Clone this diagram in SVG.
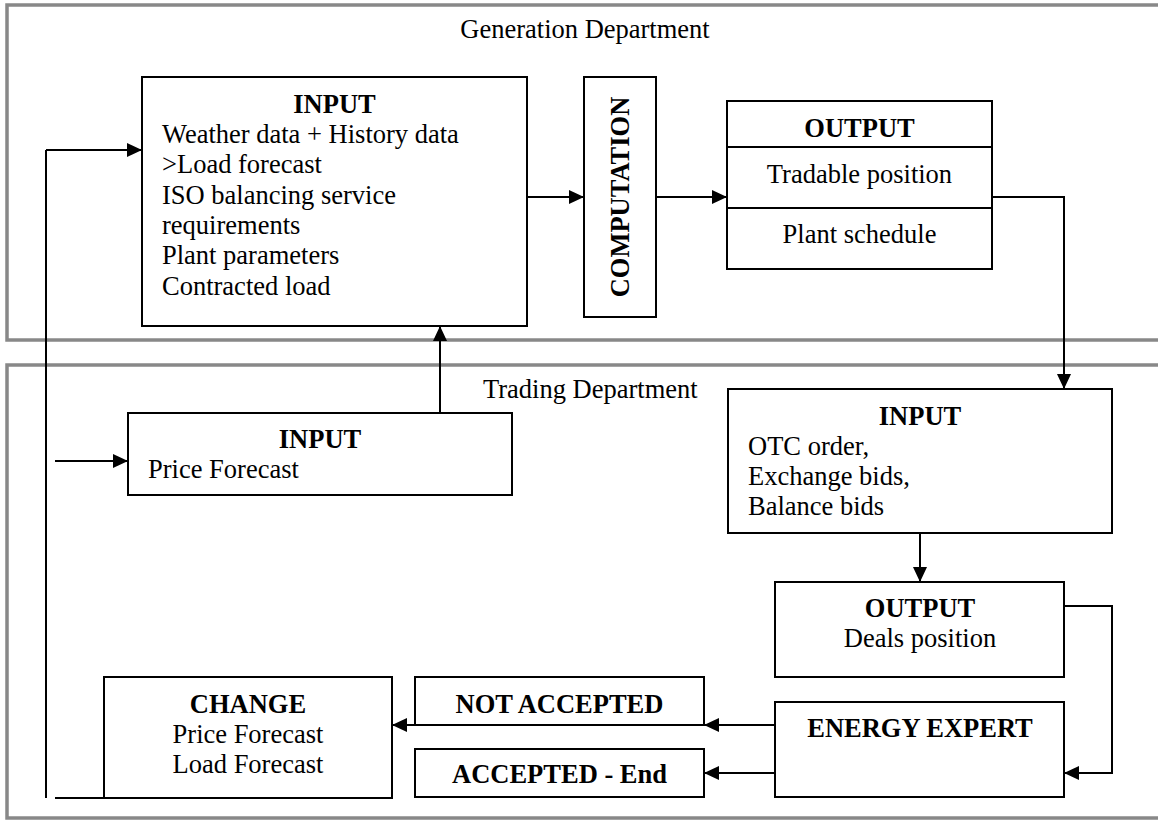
<svg xmlns="http://www.w3.org/2000/svg" width="1158" height="820" viewBox="0 0 1158 820">
<style>
text{font-family:"Liberation Serif","Times New Roman",serif;font-size:26.5px;fill:#000}
.b{font-weight:bold}
.c{text-anchor:middle}
.dept{fill:none;stroke:#888;stroke-width:3.5}
.box{fill:#fff;stroke:#000;stroke-width:2}
.ln{fill:none;stroke:#000;stroke-width:2}
.ar{fill:none;stroke:#000;stroke-width:2;marker-end:url(#ah)}
</style>
<defs>
<marker id="ah" markerUnits="userSpaceOnUse" markerWidth="15" markerHeight="14" refX="15" refY="7" orient="auto">
<path d="M0,0 L15,7 L0,14 z" fill="#000"/>
</marker>
</defs>
<rect width="1158" height="820" fill="#fff"/>
<g id="generation-dept">
<rect class="dept" x="7" y="5" width="1160" height="335"/>
<text class="c" x="585" y="38">Generation Department</text>
</g>
<g id="trading-dept">
<rect class="dept" x="7" y="365" width="1160" height="453"/>
<text x="483" y="398">Trading Department</text>
</g>
<g id="connectors">
<path class="ln" d="M46,798 L46,150"/>
<path class="ar" d="M46,150 L142,150"/>
<path class="ln" d="M55,798 L104,798"/>
<path class="ar" d="M55,461 L128,461"/>
<path class="ar" d="M440,413 L440,326"/>
<path class="ar" d="M527,197 L584,197"/>
<path class="ar" d="M656,197 L727,197"/>
<path class="ar" d="M992,197 L1064,197 L1064,389"/>
<path class="ar" d="M920,533 L920,582"/>
<path class="ar" d="M1064,606 L1112,606 L1112,773 L1064,773"/>
<path class="ar" d="M775,725 L704,725"/>
<path class="ar" d="M775,773 L704,773"/>
<path class="ar" d="M415,725 L392,725"/>
</g>
<g id="gen-input">
<rect class="box" x="142" y="77" width="385" height="249"/>
<text class="b c" x="334.5" y="113">INPUT</text>
<text x="162" y="143">Weather data + History data</text>
<text x="162" y="173.3">&gt;Load forecast</text>
<text x="162" y="203.6">ISO balancing service</text>
<text x="162" y="233.9">requirements</text>
<text x="162" y="264.2">Plant parameters</text>
<text x="162" y="294.5">Contracted load</text>
</g>
<g id="computation">
<rect class="box" x="584" y="77" width="72" height="240"/>
<text class="b c" transform="translate(629,197) rotate(-90)">COMPUTATION</text>
</g>
<g id="gen-output">
<rect class="box" x="727" y="101" width="265" height="168"/>
<path class="ln" d="M727,147 L992,147 M727,208 L992,208"/>
<text class="b c" x="859.5" y="137">OUTPUT</text>
<text class="c" x="859.5" y="183">Tradable position</text>
<text class="c" x="859.5" y="243">Plant schedule</text>
</g>
<g id="price-input">
<rect class="box" x="128" y="413" width="384" height="82"/>
<text class="b c" x="320" y="448">INPUT</text>
<text x="148" y="478">Price Forecast</text>
</g>
<g id="trade-input">
<rect class="box" x="728" y="389" width="384" height="144"/>
<text class="b c" x="920" y="425">INPUT</text>
<text x="748" y="455">OTC order,</text>
<text x="748" y="485">Exchange bids,</text>
<text x="748" y="515">Balance bids</text>
</g>
<g id="deals-output">
<rect class="box" x="775" y="582" width="289" height="95"/>
<text class="b c" x="920" y="617">OUTPUT</text>
<text class="c" x="920" y="647">Deals position</text>
</g>
<g id="energy-expert">
<rect class="box" x="775" y="702" width="289" height="95"/>
<text class="b c" x="920" y="737">ENERGY EXPERT</text>
</g>
<g id="not-accepted">
<rect class="box" x="415" y="677" width="289" height="48"/>
<text class="b c" x="559.5" y="713">NOT ACCEPTED</text>
</g>
<g id="accepted">
<rect class="box" x="415" y="749" width="289" height="48"/>
<text class="b c" x="559.5" y="783">ACCEPTED - End</text>
</g>
<g id="change">
<rect class="box" x="104" y="677" width="288" height="121"/>
<text class="b c" x="248" y="713">CHANGE</text>
<text class="c" x="248" y="743">Price Forecast</text>
<text class="c" x="248" y="773">Load Forecast</text>
</g>
</svg>
